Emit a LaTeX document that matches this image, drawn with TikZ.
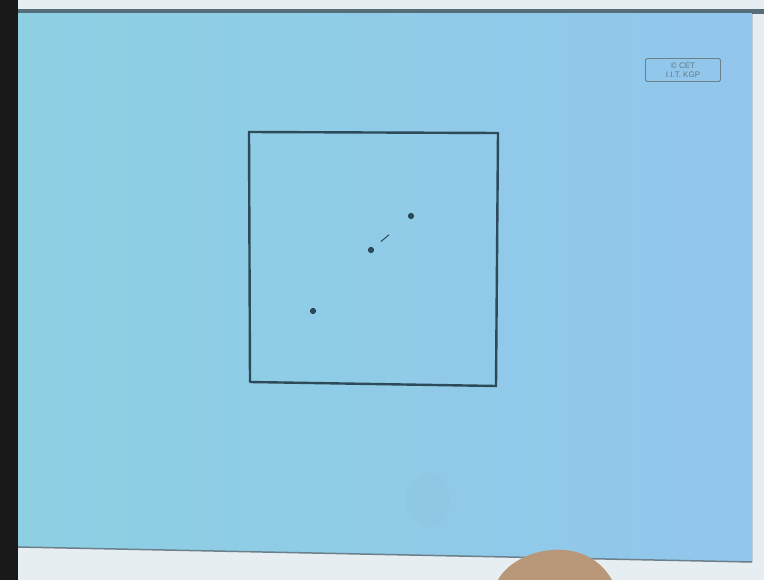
\documentclass[tikz,border=0pt]{standalone}
\usepackage{fontspec}
\newfontfamily\logofont{Liberation Sans}
\usetikzlibrary{positioning}
\definecolor{sheetCyan}{HTML}{8DD0E3}
\definecolor{sheetBlue}{HTML}{92C6EC}
\definecolor{inkDark}{HTML}{2C4A58}
\definecolor{paperWhite}{HTML}{E6EEF2}
\definecolor{handTone}{HTML}{B89878}
\begin{document}
\begin{tikzpicture}[x=1pt, y=-1pt,
      dot/.style={circle, fill=inkDark, draw=inkDark!60!black, inner sep=0pt,
                  minimum size=5.5pt},
      frameline/.style={draw=inkDark, line width=2.4pt, line join=round},
      stamp/.style={draw=inkDark!70, rounded corners=1.5pt, line width=0.8pt,
                    minimum width=75pt, minimum height=23pt, align=center,
                    inner sep=1pt, font=\logofont\fontsize{8}{8.5}\selectfont,
                    text=inkDark!75}]
    \useasboundingbox (0,0) rectangle (764,580);
    % background
    \fill[paperWhite] (0,0) rectangle (764,580);
    \fill[black!90] (0,0) rectangle (18,580);
    \fill[inkDark!80] (18,9) rectangle (764,14);
    \fill[left color=sheetCyan, right color=sheetBlue]
      (18,13) -- (752,13) -- (752,562) -- (18,547) -- cycle;
    \draw[inkDark!70, line width=1.5pt] (18,547) -- (752,562);
    \fill[sheetBlue!75!gray, opacity=.12] (428,500) ellipse (22pt and 28pt);
    % frame
    \coordinate (tl) at (249,132);
    \coordinate (tr) at (498,133);
    \coordinate (br) at (496,386);
    \coordinate (bl) at (250,382);
    \draw[frameline] (tl) -- (tr) -- (br) -- (bl) -- cycle;
    % points
    \node[dot] (p1) at (411,216) {};
    \node[dot] (p2) at (371,250) {};
    \node[dot] (p3) at (313,311) {};
    \draw[inkDark, line width=1pt, shorten <=10pt, shorten >=26pt] (p2) -- (p1);
    % stamp
    \node[stamp] (logo) at (683,70) {\copyright\ CET\\I.I.T. KGP};
    % hand
    \fill[handTone] (498,580) .. controls (515,548) and (585,532) .. (612,580) -- cycle;
  \end{tikzpicture}
\end{document}
